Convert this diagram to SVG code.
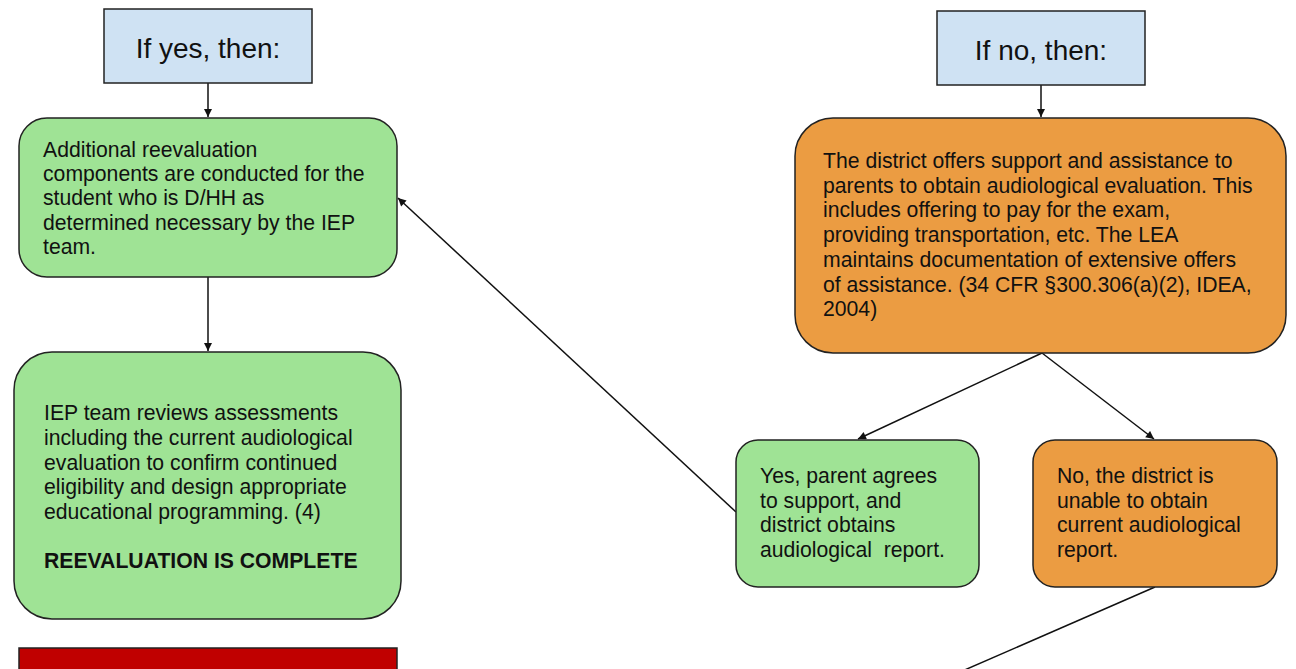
<svg xmlns="http://www.w3.org/2000/svg" width="1296" height="669" viewBox="0 0 1296 669">
<style>
.box{stroke:#222;stroke-width:1.5}
.blue{fill:#cfe2f3}
.green{fill:#9fe395}
.orange{fill:#eb9c42}
.red{fill:#c00000}
.t{font-family:"Liberation Sans",Arial,sans-serif;font-size:21.2px;fill:#111}
.h{font-family:"Liberation Sans",Arial,sans-serif;font-size:28px;fill:#111;text-anchor:middle}
.b{font-weight:bold}
.c{stroke:#111;stroke-width:1.5;fill:none}
</style>
<defs>
<marker id="ah" viewBox="0 0 10 10" refX="10" refY="5" markerWidth="9" markerHeight="8" markerUnits="userSpaceOnUse" orient="auto">
<path d="M0,0 L10,5 L0,10 z" fill="#111"/>
</marker>
</defs>
<g id="connectors">
<line class="c" x1="208" y1="83" x2="208" y2="117" marker-end="url(#ah)"/>
<line class="c" x1="208" y1="277" x2="208" y2="351" marker-end="url(#ah)"/>
<line class="c" x1="1041" y1="85" x2="1041" y2="117" marker-end="url(#ah)"/>
<line class="c" x1="1042" y1="353" x2="858" y2="439" marker-end="url(#ah)"/>
<line class="c" x1="1042" y1="353" x2="1154" y2="439" marker-end="url(#ah)"/>
<line class="c" x1="736" y1="512" x2="398" y2="198" marker-end="url(#ah)"/>
<line class="c" x1="1155" y1="587" x2="960" y2="672"/>
</g>
<g id="n-yes">
<rect class="box blue" x="104" y="9" width="208" height="74"/>
<text class="h" x="208" y="58">If yes, then:</text>
</g>
<g id="n-no">
<rect class="box blue" x="937" y="11" width="208" height="74"/>
<text class="h" x="1041" y="60">If no, then:</text>
</g>
<g id="n-additional">
<rect class="box green" x="19" y="118" width="378" height="159" rx="28"/>
<text class="t" x="43" y="157">Additional reevaluation</text>
<text class="t" x="43" y="181">components are conducted for the</text>
<text class="t" x="43" y="205">student who is D/HH as</text>
<text class="t" x="43" y="230">determined necessary by the IEP</text>
<text class="t" x="43" y="254">team.</text>
</g>
<g id="n-review">
<rect class="box green" x="14" y="352" width="387" height="267" rx="38"/>
<text class="t" x="44" y="420">IEP team reviews assessments</text>
<text class="t" x="44" y="445">including the current audiological</text>
<text class="t" x="44" y="470">evaluation to confirm continued</text>
<text class="t" x="44" y="494">eligibility and design appropriate</text>
<text class="t" x="44" y="519">educational programming. (4)</text>
<text class="t b" x="44" y="568">REEVALUATION IS COMPLETE</text>
</g>
<g id="n-red">
<rect class="box red" x="19" y="648" width="378" height="40"/>
</g>
<g id="n-district">
<rect class="box orange" x="795" y="118" width="491" height="235" rx="38"/>
<text class="t" x="823" y="168">The district offers support and assistance to</text>
<text class="t" x="823" y="193">parents to obtain audiological evaluation. This</text>
<text class="t" x="823" y="217">includes offering to pay for the exam,</text>
<text class="t" x="823" y="242">providing transportation, etc. The LEA</text>
<text class="t" x="823" y="267">maintains documentation of extensive offers</text>
<text class="t" x="823" y="292">of assistance. (34 CFR §300.306(a)(2), IDEA,</text>
<text class="t" x="823" y="316">2004)</text>
</g>
<g id="n-parent-yes">
<rect class="box green" x="736" y="440" width="243" height="147" rx="22"/>
<text class="t" x="760" y="483">Yes, parent agrees</text>
<text class="t" x="760" y="508">to support, and</text>
<text class="t" x="760" y="532">district obtains</text>
<text class="t" x="760" y="557" xml:space="preserve">audiological  report.</text>
</g>
<g id="n-parent-no">
<rect class="box orange" x="1033" y="440" width="244" height="147" rx="22"/>
<text class="t" x="1057" y="483">No, the district is</text>
<text class="t" x="1057" y="508">unable to obtain</text>
<text class="t" x="1057" y="532">current audiological</text>
<text class="t" x="1057" y="557">report.</text>
</g>
</svg>
